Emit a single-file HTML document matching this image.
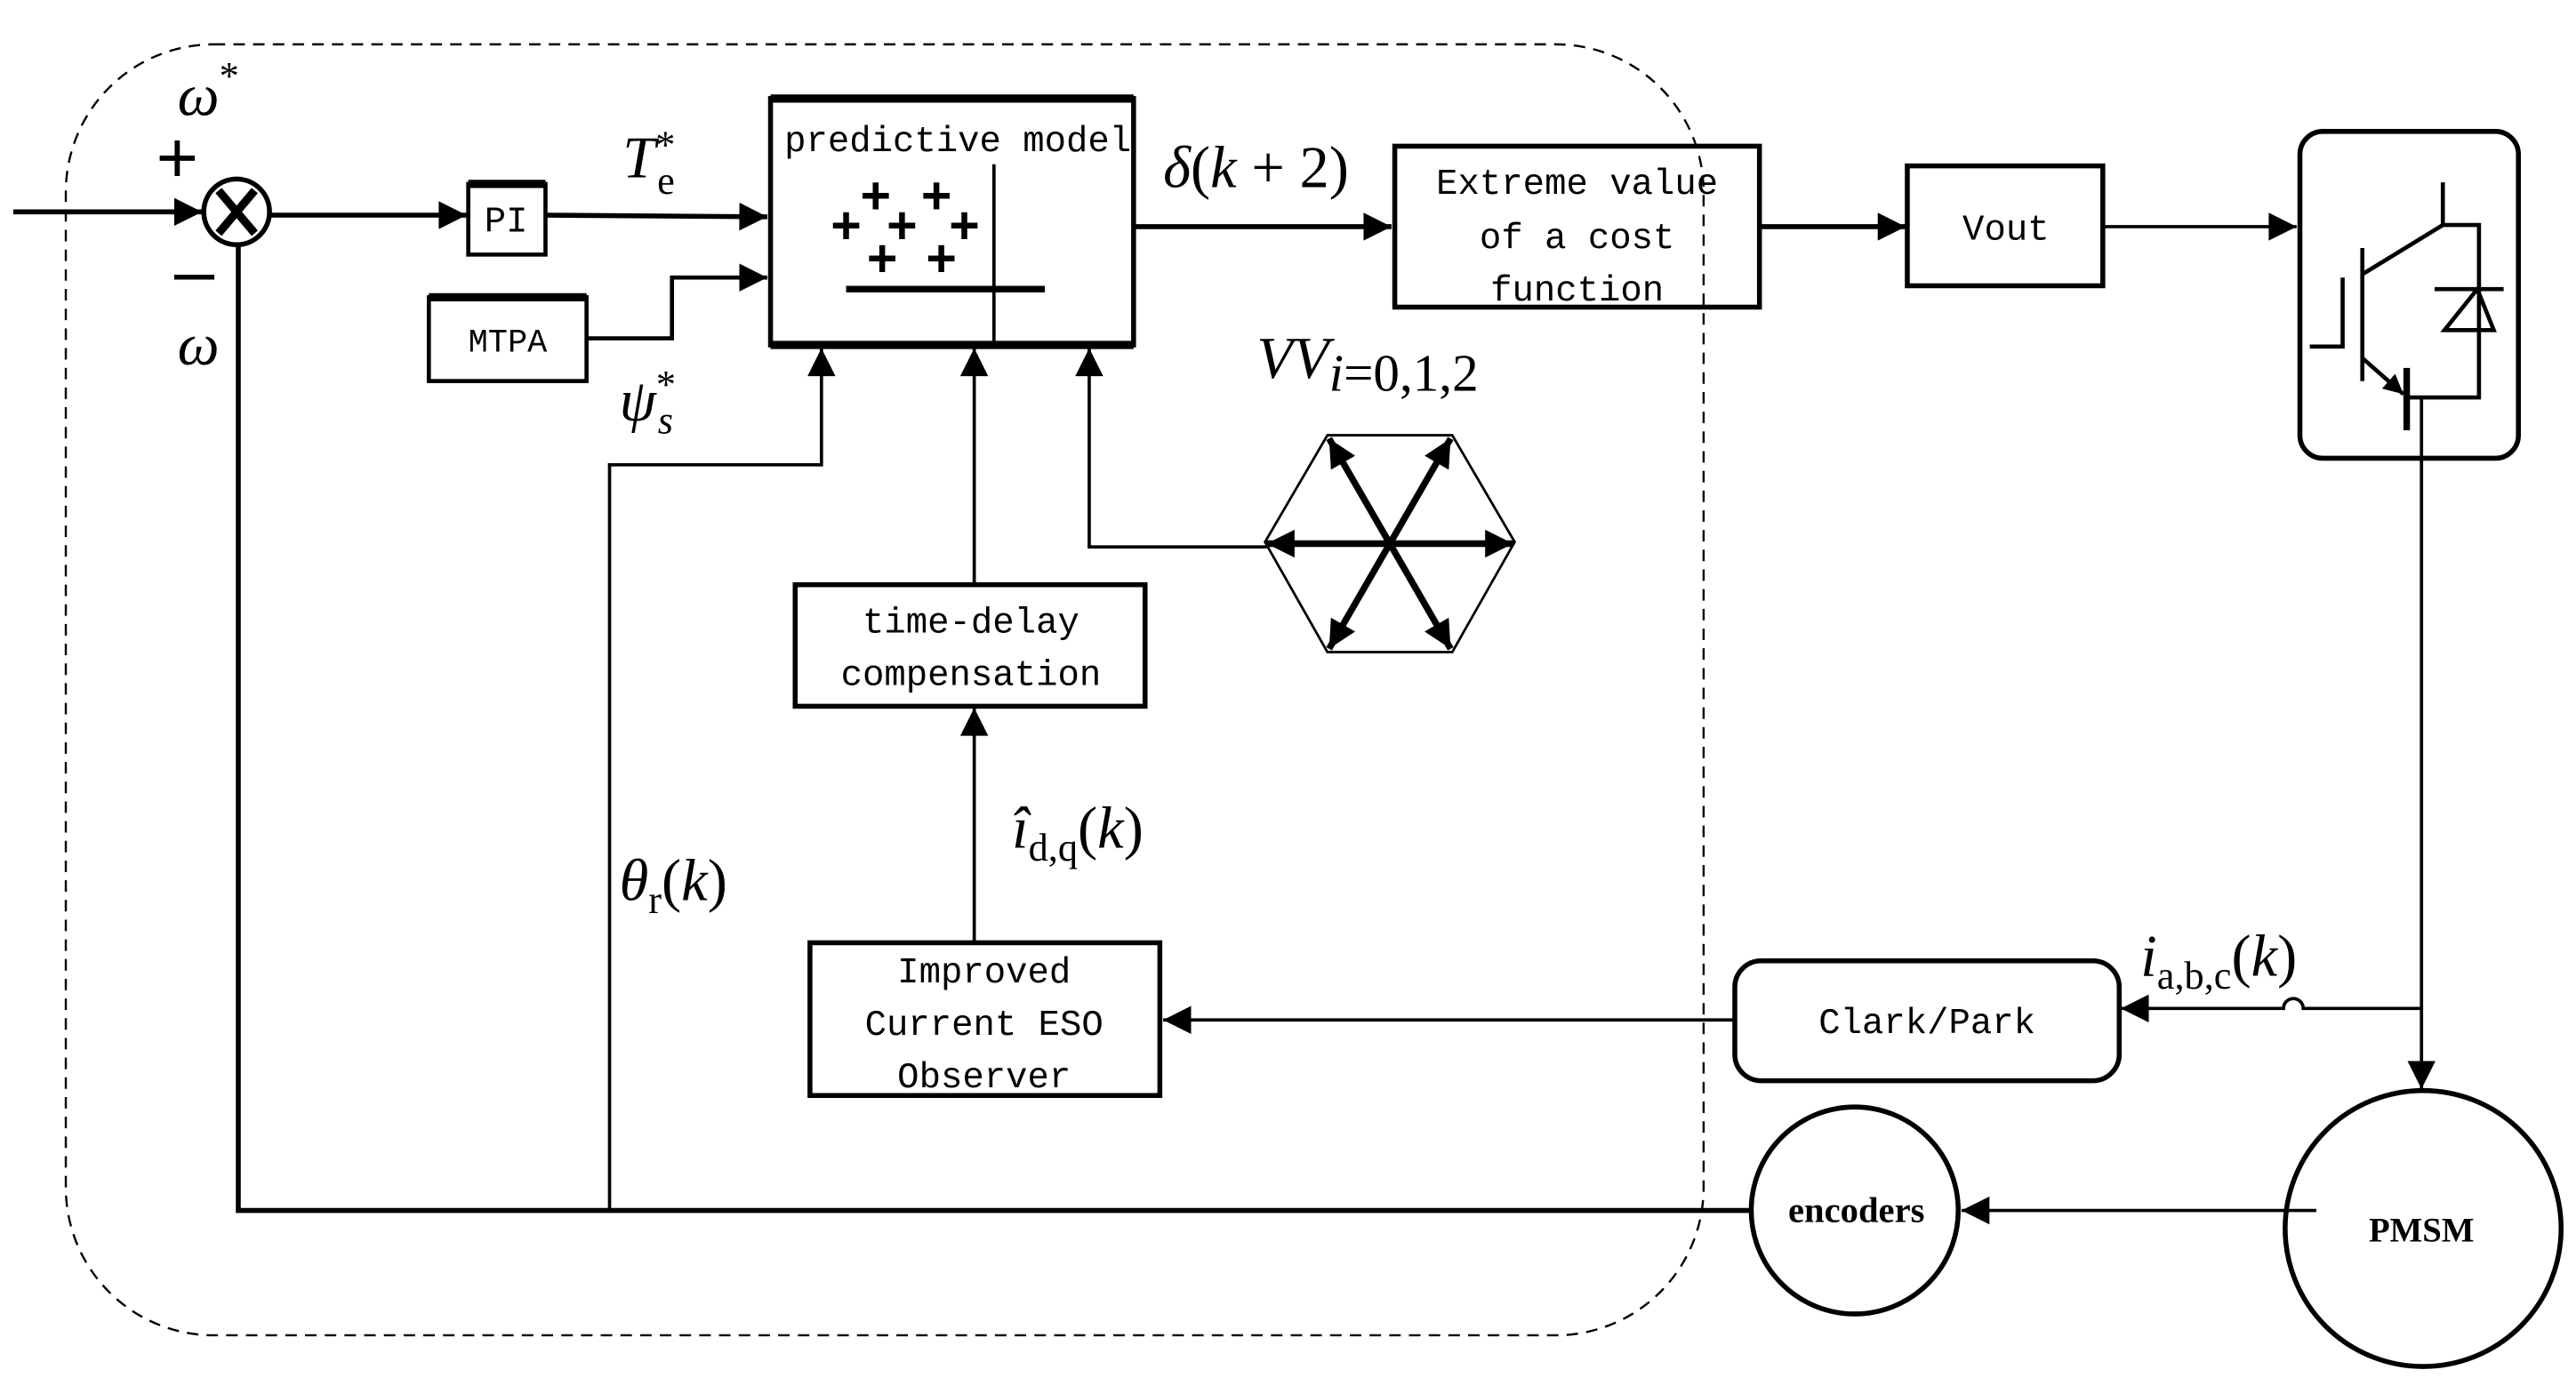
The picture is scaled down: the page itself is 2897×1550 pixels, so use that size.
<!DOCTYPE html>
<html><head><meta charset="utf-8"><style>
html,body{margin:0;padding:0;background:#fff;}
svg{display:block;}
.m{font-family:"Liberation Mono",monospace;font-size:22px;}
.s{font-family:"Liberation Serif",serif;font-style:italic;font-size:36px;}
</style></head><body>
<svg width="2897" height="1550" viewBox="0 0 1568 839" xmlns="http://www.w3.org/2000/svg">
<defs>
<marker id="a" viewBox="0 0 10 10" refX="10" refY="5" markerWidth="12" markerHeight="12" markerUnits="userSpaceOnUse" orient="auto"><path d="M0,0 L10,5 L0,10 z" fill="#000"/></marker>
<marker id="b" viewBox="0 0 10 10" refX="10" refY="5" markerWidth="18" markerHeight="17" markerUnits="userSpaceOnUse" orient="auto"><path d="M0,0 L10,5 L0,10 z" fill="#000"/></marker>
</defs>
<rect width="1568" height="839" fill="#fff"/>
<rect x="40" y="27" width="997" height="786" rx="90" fill="none" stroke="#000" stroke-width="1.3" stroke-dasharray="7,5"/>

<g stroke="#000" fill="none">
<line x1="8" y1="129" x2="123" y2="129" stroke-width="3" marker-end="url(#b)"/>
<circle cx="144" cy="129" r="20" stroke-width="3"/>
<line x1="133" y1="116" x2="155" y2="142" stroke-width="5"/>
<line x1="155" y1="116" x2="133" y2="142" stroke-width="5"/>
<line x1="165" y1="131" x2="284" y2="131" stroke-width="3" marker-end="url(#b)"/>
<rect x="285" y="112" width="47" height="43" stroke-width="2.5"/>
<line x1="285" y1="112" x2="332" y2="112" stroke-width="5"/>
<line x1="332" y1="131" x2="467" y2="132" stroke-width="3" marker-end="url(#b)"/>
<rect x="469" y="60" width="221" height="150" stroke-width="3"/>
<line x1="469" y1="60" x2="690" y2="60" stroke-width="5"/>
<line x1="469" y1="210" x2="690" y2="210" stroke-width="5"/>
<line x1="605" y1="100" x2="605" y2="210" stroke-width="2"/>
<line x1="515" y1="176" x2="636" y2="176" stroke-width="4"/>
<rect x="261" y="181" width="96" height="51" stroke-width="2.5"/>
<line x1="261" y1="181" x2="357" y2="181" stroke-width="5"/>
<polyline points="357,206 409,206 409,169 467,169" stroke-width="2.5" marker-end="url(#b)"/>
<polyline points="1067,737 145,737 145,149" stroke-width="3"/>
<polyline points="371,737 371,283 500,283 500,212" stroke-width="2" marker-end="url(#b)"/>
<line x1="593" y1="356" x2="593" y2="212" stroke-width="2" marker-end="url(#b)"/>
<polyline points="771,333 663,333 663,212" stroke-width="2" marker-end="url(#b)"/>
<line x1="690" y1="138" x2="847" y2="138" stroke-width="3" marker-end="url(#b)"/>
<rect x="849" y="89" width="222" height="98" stroke-width="3"/>
<line x1="1071" y1="138" x2="1160" y2="138" stroke-width="3" marker-end="url(#b)"/>
<rect x="1161" y="101" width="119" height="73" stroke-width="3"/>
<line x1="1280" y1="138" x2="1398" y2="138" stroke-width="2" marker-end="url(#b)"/>
<rect x="1400" y="80" width="133" height="199" rx="14" stroke-width="3"/>
<line x1="1487" y1="111" x2="1487" y2="137" stroke-width="2.5"/>
<polyline points="1438,167 1487,137 1509,137 1509,242 1463,242" stroke-width="2.5"/>
<line x1="1438" y1="151" x2="1438" y2="232" stroke-width="2.5"/>
<line x1="1438" y1="218" x2="1463" y2="240" stroke-width="2.5" marker-end="url(#a)"/>
<line x1="1482" y1="176" x2="1524" y2="176" stroke-width="2.5"/>
<polygon points="1508,176 1488,201 1518,201" stroke-width="2.5"/>
<polyline points="1426,169 1426,211 1406,211" stroke-width="2.5"/>
<line x1="1465" y1="224" x2="1465" y2="262" stroke-width="4"/>
<line x1="1474" y1="242" x2="1474" y2="663" stroke-width="2" marker-end="url(#b)"/>
<circle cx="1475" cy="748" r="84" stroke-width="3"/>
<line x1="1410" y1="737" x2="1194" y2="737" stroke-width="2" marker-end="url(#b)"/>
<circle cx="1129" cy="737" r="63" stroke-width="3"/>
<path d="M1474,614 L1402,614 A6,6 0 0 0 1390,614 L1291,614" stroke-width="2" marker-end="url(#b)"/>
<rect x="1056" y="585" width="234" height="73" rx="16" stroke-width="3"/>
<line x1="1056" y1="621" x2="708" y2="621" stroke-width="2" marker-end="url(#b)"/>
<rect x="493" y="574" width="213" height="93" stroke-width="3"/>
<line x1="593" y1="574" x2="593" y2="431" stroke-width="2" marker-end="url(#b)"/>
<rect x="484" y="356" width="213" height="74" stroke-width="3"/>
<polygon points="770,330 808,265 884,265 922,330 884,397 808,397" stroke-width="1.5"/>
<g stroke-width="4">
<line x1="846" y1="331" x2="771" y2="331" marker-end="url(#b)"/>
<line x1="846" y1="331" x2="921" y2="331" marker-end="url(#b)"/>
<line x1="846" y1="331" x2="809" y2="267" marker-end="url(#b)"/>
<line x1="846" y1="331" x2="883" y2="267" marker-end="url(#b)"/>
<line x1="846" y1="331" x2="809" y2="395" marker-end="url(#b)"/>
<line x1="846" y1="331" x2="883" y2="395" marker-end="url(#b)"/>
</g>
</g>

<g font-family="Liberation Sans" font-size="32" font-weight="bold" text-anchor="middle">
<text x="533" y="130">+</text><text x="570" y="130">+</text>
<text x="515" y="148">+</text><text x="549" y="148">+</text><text x="587" y="148">+</text>
<text x="537" y="168">+</text><text x="573" y="168">+</text>
</g>

<g class="m" text-anchor="middle">
<text x="308" y="141">PI</text>
<text x="309" y="214" font-size="20">MTPA</text>
<text x="583" y="92">predictive model</text>
<text x="960" y="118">Extreme value</text>
<text x="960" y="151">of a cost</text>
<text x="960" y="183">function</text>
<text x="1221" y="146">Vout</text>
<text x="1173" y="629">Clark/Park</text>
<text x="599" y="598">Improved</text>
<text x="599" y="630">Current ESO</text>
<text x="599" y="662">Observer</text>
<text x="591" y="385">time-delay</text>
<text x="591" y="417">compensation</text>
<text x="1130" y="744" font-size="22" font-weight="bold" font-family="Liberation Serif">encoders</text>
<text x="1474" y="756" font-size="21" font-weight="bold" font-family="Liberation Serif">PMSM</text>
</g>
<g font-family="Liberation Sans" font-size="44">
<text x="95" y="111">+</text>
<text x="106" y="180">–</text>
</g>
<text class="s" x="108" y="70">ω<tspan font-size="24" dy="-16" font-style="normal">*</tspan></text>
<text class="s" x="108" y="222">ω</text>
<text class="s" x="379" y="108">T<tspan font-size="24" dy="-12" font-style="normal">*</tspan><tspan font-size="24" dx="-11" dy="22" font-style="normal">e</tspan></text>
<text class="s" x="377" y="256">ψ<tspan font-size="24" dy="-14" font-style="normal">*</tspan><tspan font-size="24" dx="-11" dy="22">s</tspan></text>
<text class="s" x="708" y="114" font-size="32">δ<tspan font-style="normal">(</tspan>k<tspan font-style="normal"> + 2)</tspan></text>
<text class="s" x="765" y="230" font-size="44">VV<tspan font-size="32" dy="8">i</tspan><tspan font-size="32" font-style="normal">=0,1,2</tspan></text>
<text class="s" x="377" y="548">θ<tspan font-size="24" font-style="normal" dy="8">r</tspan><tspan font-style="normal" dy="-8">(</tspan>k<tspan font-style="normal">)</tspan></text>
<text class="s" x="616" y="516">î<tspan font-size="24" font-style="normal" dy="8">d,q</tspan><tspan font-style="normal" dy="-8">(</tspan>k<tspan font-style="normal">)</tspan></text>
<text class="s" x="1303" y="594">i<tspan font-size="24" font-style="normal" dy="8">a,b,c</tspan><tspan font-style="normal" dy="-8">(</tspan>k<tspan font-style="normal">)</tspan></text>
</svg>
</body></html>
